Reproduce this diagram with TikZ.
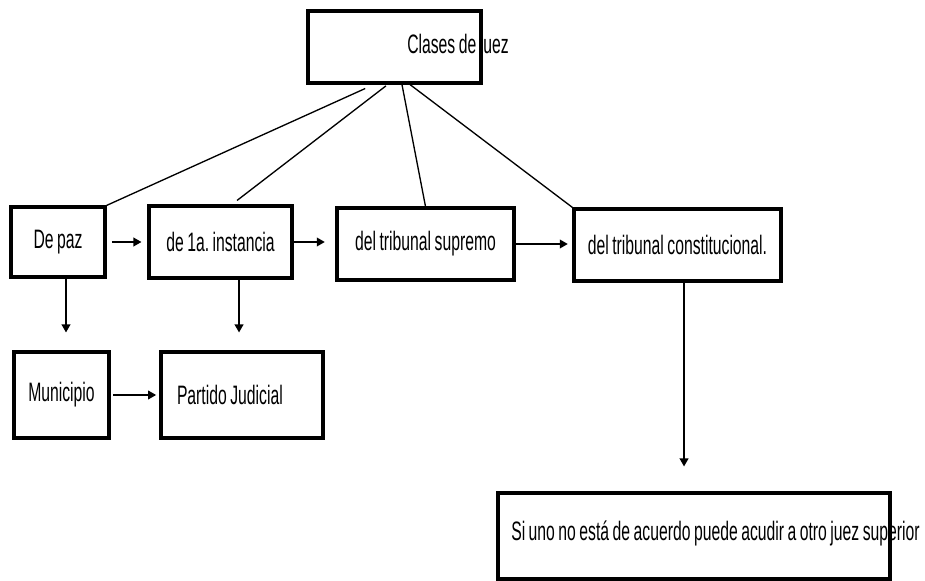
\documentclass[tikz,border=0pt]{standalone}
\usepackage{fontspec}
\setmainfont{Liberation Sans}[FakeStretch=0.59,WordSpace=0.8]
\usepackage{tikz}
\usetikzlibrary{arrows.meta}
\frenchspacing

\begin{document}
\begin{tikzpicture}[x=0.75pt,y=-0.75pt,
    box/.style={draw,line width=2.3pt,inner sep=0pt,font=\fontsize{20}{22}\selectfont},
    txt/.style={inner sep=0pt,font=\fontsize{20}{22}\selectfont},
    link/.style={line width=1pt},
    arr/.style={line width=1.2pt,-{Triangle[length=6pt,width=6.5pt]}}]
    \useasboundingbox (0,0) rectangle (925,581);

    % Top box
    \node[txt] (clasestxt) at (458,47) {Clases de juez};
    \node[box,minimum width=129.75pt,minimum height=54pt] (clases) at (394.5,47) {};

    % Second row
    \node[box,minimum width=70.5pt,minimum height=52.5pt] (paz) at (58,242) {De paz};
    \node[box,minimum width=107.25pt,minimum height=54pt] (instancia) at (220.5,242) {de 1a. instancia};
    \node[box,minimum width=132.75pt,minimum height=54pt] (supremo) at (425.5,244) {del tribunal supremo};
    \node[box,minimum width=155.25pt,minimum height=54pt] (constitucional) at (677.5,245) {del tribunal constitucional.};

    % Third row
    \node[box,minimum width=71.25pt,minimum height=64.5pt] (municipio) at (61.5,395) {Municipio};
    \node[box,text width=97.5pt,inner xsep=12pt,minimum height=64.5pt,align=flush left] (partido) at (242,395) {Partido Judicial};

    % Bottom box
    \node[txt,anchor=east] (superiortxt) at (920,533) {Si uno no está de acuerdo puede acudir a otro juez superior};
    \node[box,minimum width=294pt,minimum height=64.5pt] (superior) at (694,536) {};

    % Lines from the top box
    \draw[link] ([xshift=-22pt,yshift=-3pt]clases.south) -- (paz.north east);
    \draw[link] ([xshift=-6.4pt,yshift=-1pt]clases.south) -- ([xshift=12.4pt,yshift=3pt]instancia.north);
    \draw[link] ([xshift=5.6pt]clases.south) -- (supremo.north);
    \draw[link] ([xshift=11.6pt]clases.south) -- (constitucional.north west);

    % Arrows across
    \draw[arr,shorten <=4pt,shorten >=4.5pt] (paz.east) -- (paz.east -| instancia.west);
    \draw[arr,shorten >=8pt] (instancia.east) -- (instancia.east -| supremo.west);
    \draw[arr,shorten >=3.5pt] (supremo.east) -- (supremo.east -| constitucional.west);
    \draw[arr,shorten <=2pt,shorten >=2.5pt] (municipio.east) -- (partido.west);

    % Arrows down
    \draw[arr,shorten >=13.5pt] ([xshift=6pt]paz.south) -- ([xshift=6pt]paz.south |- municipio.north);
    \draw[arr,shorten >=13.5pt] ([xshift=13.9pt]instancia.south) -- ([xshift=13.9pt]instancia.south |- partido.north);
    \draw[arr,shorten >=18.75pt] ([xshift=4.9pt,yshift=2pt]constitucional.south) -- ([xshift=4.9pt]constitucional.south |- superior.north);
\end{tikzpicture}
\end{document}
